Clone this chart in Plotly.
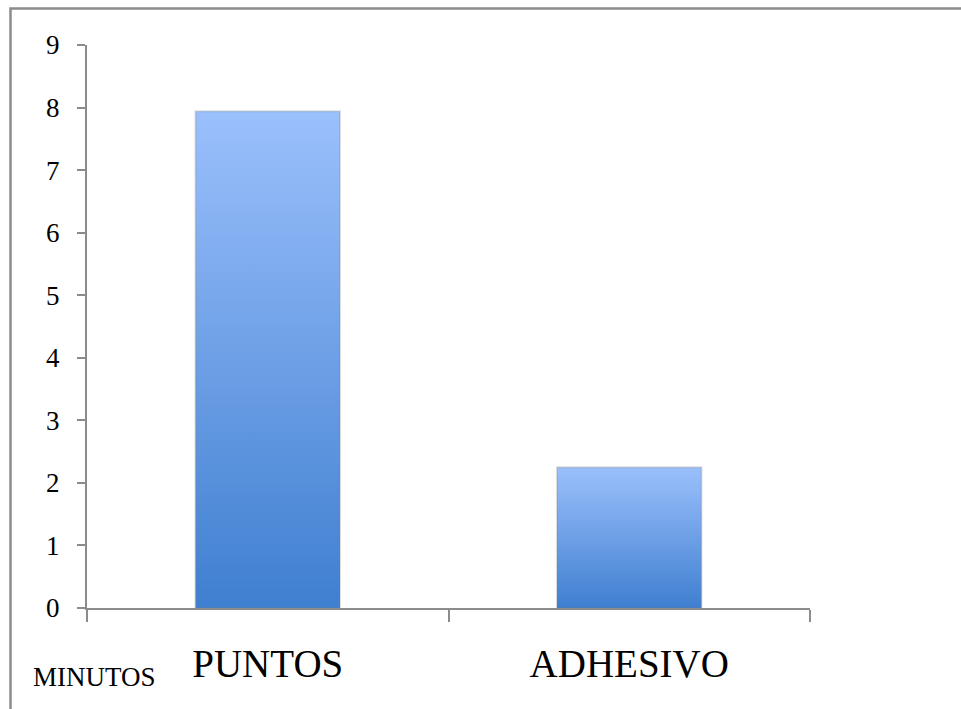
import plotly.graph_objects as go

# Minutes per closure technique
categories = ["PUNTOS", "ADHESIVO"]
minutes = [7.94, 2.25]
y_ticks = list(range(0, 10))
axis_title = "MINUTOS"

W, H = 961, 709
ML, MR, MT, MB = 87, 151, 45, 101
PW, PH = W - ML - MR, H - MT - MB
BAR_W = 0.4
GRAY = "#8c8c8c"
SERIF = "Liberation Serif, Times New Roman, serif"


def px_x(p):
    return (p - ML) / PW


def px_y(p):
    return (H - MB - p) / PH


fig = go.Figure()

# Bars drawn as filled rectangles so they can carry a vertical gradient
for i, (cat, v) in enumerate(zip(categories, minutes)):
    x0, x1 = i - BAR_W / 2, i + BAR_W / 2
    fig.add_trace(go.Scatter(
        x=[x0, x1, x1, x0, x0],
        y=[0, 0, v, v, 0],
        mode="lines",
        fill="toself",
        fillgradient=dict(type="vertical",
                          colorscale=[[0, "#3f7fd0"], [1, "#9bc0fc"]]),
        line=dict(color="rgba(120,120,120,0.22)", width=2),
        name=cat,
        text=f"{cat}: {v}",
        hoveron="fills",
        hoverinfo="text",
        showlegend=False,
    ))

# Invisible trace so the category-label axis is rendered
fig.add_trace(go.Scatter(x=[0, 1], y=[0, 0], xaxis="x2", mode="markers",
                         marker=dict(opacity=0), hoverinfo="skip",
                         showlegend=False))

fig.update_layout(
    width=W, height=H,
    margin=dict(l=ML, r=MR, t=MT, b=MB),
    paper_bgcolor="white", plot_bgcolor="white",
    xaxis=dict(range=[-0.5, 1.5], tickvals=[-0.5, 0.5, 1.5],
               ticktext=["", "", ""], ticks="outside", ticklen=12,
               tickwidth=2, tickcolor=GRAY, showline=True, linecolor=GRAY,
               linewidth=2, showgrid=False, zeroline=False),
    xaxis2=dict(overlaying="x", side="bottom", range=[-0.5, 1.5],
                tickvals=[0, 1], ticktext=categories, ticks="",
                showline=False, showgrid=False, zeroline=False,
                ticklabelstandoff=29,
                tickfont=dict(family=SERIF, size=39, color="black")),
    yaxis=dict(range=[0, 9], tickvals=y_ticks, ticks="outside", ticklen=8,
               tickwidth=2, tickcolor=GRAY, showline=True, linecolor=GRAY,
               linewidth=2, showgrid=False, zeroline=False,
               ticklabelstandoff=12,
               tickfont=dict(family=SERIF, size=27, color="black")),
    annotations=[dict(text=axis_title, xref="paper", yref="paper",
                      x=px_x(31), y=px_y(677), xanchor="left",
                      yanchor="middle", showarrow=False,
                      font=dict(family=SERIF, size=27, color="black"))],
    shapes=[dict(type="path", xref="paper", yref="paper",
                 path=(f"M {px_x(10.5)} {px_y(H + 5)} "
                       f"L {px_x(10.5)} {px_y(8.5)} "
                       f"L {px_x(W + 5)} {px_y(8.5)}"),
                 line=dict(color=GRAY, width=2.5))],
)

fig.write_html("out.html")
